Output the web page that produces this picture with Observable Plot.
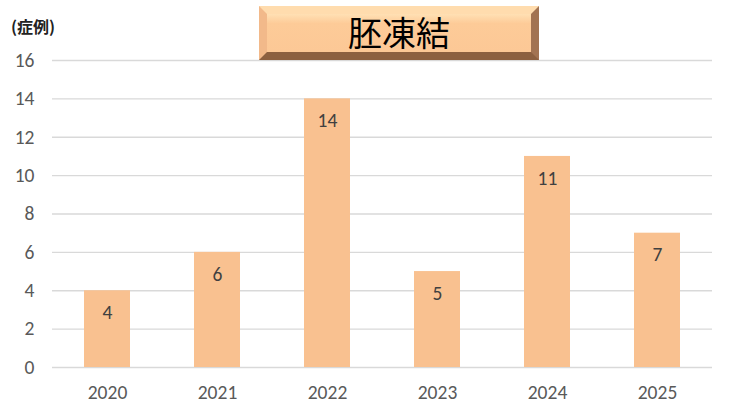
<!DOCTYPE html>
<html><head><meta charset="utf-8">
<script src="https://cdn.jsdelivr.net/npm/d3@7"></script>
<script src="https://cdn.jsdelivr.net/npm/@observablehq/plot@0.6"></script>
<style>
body{margin:0;background:#fff;font-family:Calibri,Carlito,Lato,sans-serif;}
#wrap{position:relative;width:730px;height:416px;}
#title{position:absolute;left:259px;top:6px;width:264px;height:38px;
 border-style:solid;border-width:8px;
 border-top-color:#ffdcae;border-left-color:#f2b98a;border-right-color:#a27352;border-bottom-color:#8c6040;
 background:linear-gradient(#ffe0b4 0%,#fdcb98 25%,#fcc896 100%);
 font-family:"Noto Sans CJK JP",sans-serif;font-size:34px;line-height:36px;text-align:center;color:#000;}
#unit{position:absolute;left:11px;top:14px;font-family:"Noto Sans CJK JP",sans-serif;font-size:16px;font-weight:bold;color:#222;}
</style></head>
<body>
<div id="wrap"><div id="chart"></div><div id="title">胚凍結</div><div id="unit">(症例)</div></div>
<script>
const years = ["2020","2021","2022","2023","2024","2025"];
const counts = [4, 6, 14, 5, 11, 7];
const yTicks = [0,2,4,6,8,10,12,14,16];
const data = years.map((y,i)=>({year:y,count:counts[i]}));
const fam = "Calibri, Carlito, Lato, sans-serif";
const chart = Plot.plot({
  width:730, height:416,
  marginLeft:52, marginRight:18, marginTop:60, marginBottom:49,
  style:{fontFamily:fam, background:"#fff"},
  x:{domain:years, paddingInner:0.58, paddingOuter:0.29, label:null},
  y:{domain:[0,16], label:null},
  marks:[
    Plot.gridY(yTicks,{stroke:"#d9d9d9", strokeOpacity:1, strokeWidth:1.3}),
    Plot.barY(data,{x:"year", y:"count", fill:"#f9c190"}),
    Plot.text(data,{x:"year", y:"count", text:d=>String(d.count), dy:22, fill:"#404040", fontSize:19.5, fontFamily:fam}),
    Plot.axisY(yTicks,{tickSize:0, tickPadding:18, fontSize:19.5, fill:"#595959", label:null}),
    Plot.axisX({tickSize:0, tickPadding:18, fontSize:19.5, fill:"#595959", label:null})
  ]
});
document.getElementById("chart").appendChild(chart);
</script>
</body></html>
